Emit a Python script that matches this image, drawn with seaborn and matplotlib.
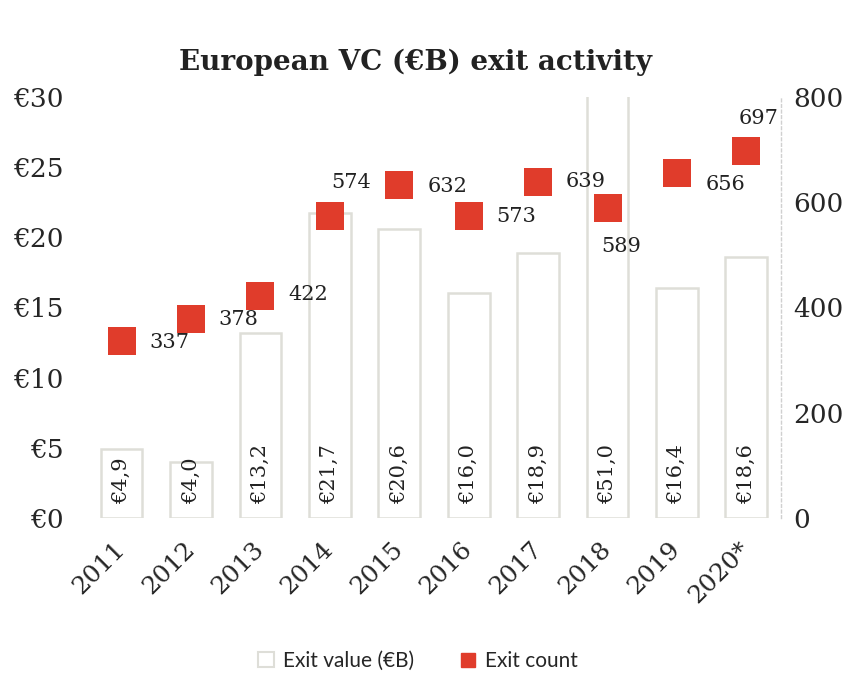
import matplotlib
matplotlib.use("Agg")
import matplotlib.pyplot as plt
from matplotlib.patches import Patch
from matplotlib.lines import Line2D
import seaborn as sns
import pandas as pd

# data
years = ["2011", "2012", "2013", "2014", "2015", "2016", "2017", "2018", "2019", "2020*"]
exit_value = [4.9, 4.0, 13.2, 21.7, 20.6, 16.0, 18.9, 51.0, 16.4, 18.6]
exit_count = [337, 378, 422, 574, 632, 573, 639, 589, 656, 697]
value_labels = ["€4,9", "€4,0", "€13,2", "€21,7", "€20,6", "€16,0", "€18,9", "€51,0", "€16,4", "€18,6"]

# label offsets for the count markers (pixels)
count_offsets = [(48, -2), (47, 0), (48, 1), (21, 33), (48, -1), (47, 0),
                 (48, 0), (14, -38), (49, -12), (12, 33)]

df = pd.DataFrame({"year": years, "value": exit_value, "count": exit_count})

sns.set_style("white")
serif = "DejaVu Serif"
sans = "Lato"
red = "#E03C2B"
edge = "#deded8"

fig = plt.figure(figsize=(8.56, 6.73), dpi=100)
ax = fig.add_axes([0.1016, 0.2303, 0.8108, 0.6256])

sns.barplot(data=df, x="year", y="value", ax=ax, color="white",
            edgecolor=edge, linewidth=1.8, width=0.6, saturation=1)
ax.set_ylim(0, 30)
ax.set_yticks(range(0, 31, 5))
ax.set_yticklabels([f"€{v}" for v in range(0, 31, 5)], fontfamily=serif, fontsize=19)
ax.tick_params(axis="y", length=0, pad=17)
ax.tick_params(axis="x", length=0, pad=20)
ax.set_xticks(range(len(years)))
ax.set_xticklabels(years, rotation=45, ha="right", va="center", rotation_mode="anchor",
                   fontfamily=serif, fontsize=18)
ax.set_xlabel("")
ax.set_ylabel("")
ax.set_xlim(-0.5, len(years) - 0.5)

for i, lab in enumerate(value_labels):
    ax.text(i, 1.0, lab, rotation=90, ha="center", va="bottom",
            fontfamily=serif, fontsize=15, color="#222222")

ax2 = ax.twinx()
ax2.scatter(range(len(years)), df["count"], marker="s", s=(28 * 0.72) ** 2,
            color=red, zorder=5, linewidths=0)
ax2.set_ylim(0, 800)
ax2.set_yticks(range(0, 801, 200))
ax2.set_yticklabels([str(v) for v in range(0, 801, 200)], fontfamily=serif, fontsize=19)
ax2.tick_params(axis="y", length=0, pad=9)
ax2.set_xlim(-0.5, len(years) - 0.5)

for i, (c, off) in enumerate(zip(exit_count, count_offsets)):
    ax2.annotate(str(c), (i, c), xytext=off, textcoords="offset pixels",
                 ha="center", va="center", fontfamily=serif, fontsize=15, color="#222222")

for a in (ax, ax2):
    for side in ("top", "left", "bottom"):
        a.spines[side].set_visible(False)
ax.spines["right"].set_visible(False)
ax2.spines["right"].set_color("#d0d0d0")
ax2.spines["right"].set_linestyle((0, (2, 2)))
ax2.spines["right"].set_linewidth(1)

fig.text(0.485, 0.908, "European VC (€B) exit activity", ha="center", va="center",
         fontfamily=serif, fontweight="bold", fontsize=20, color="#222222")

handles = [Patch(facecolor="white", edgecolor=edge, linewidth=1.5, label="Exit value (€B)"),
           Line2D([], [], marker="s", linestyle="", color=red, markersize=10, label="Exit count")]
fig.legend(handles=handles, loc="center", bbox_to_anchor=(0.488, 0.018), ncol=2,
           frameon=False, prop={"family": sans, "size": 15}, handlelength=0.8,
           handletextpad=0.4, columnspacing=2.2)

fig.savefig("out.png", dpi=100)
